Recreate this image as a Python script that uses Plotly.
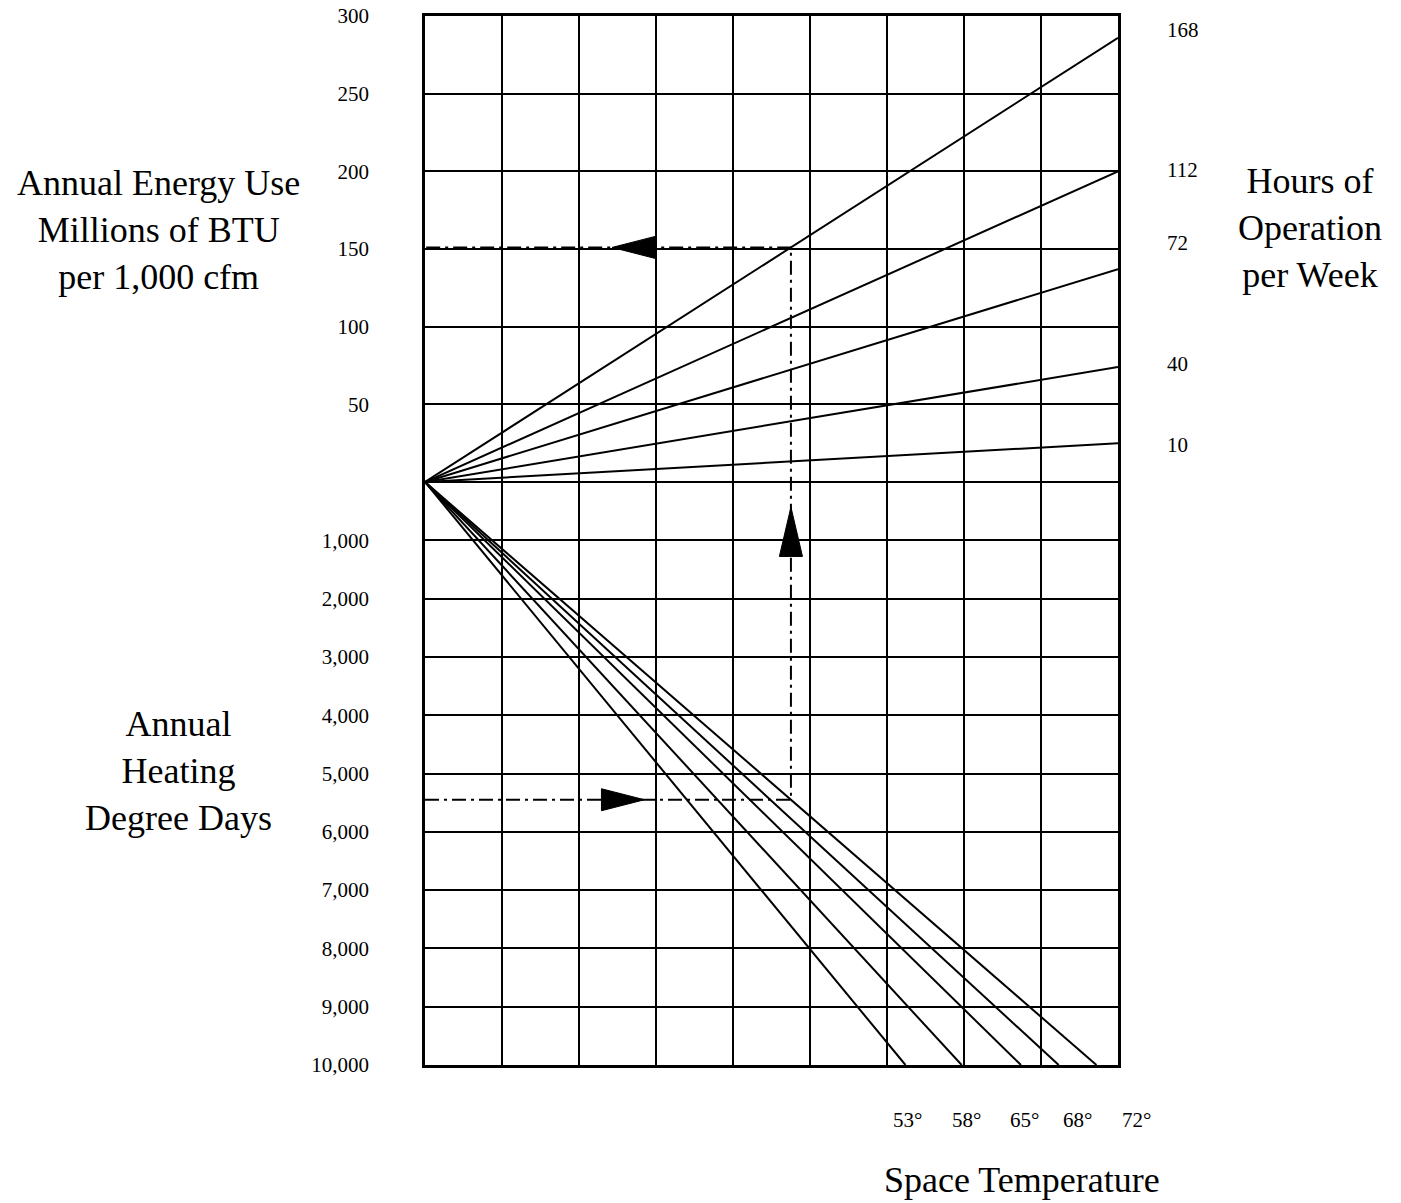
import plotly.graph_objects as go

# ---------------- data ----------------
energy_ticks = [50, 100, 150, 200, 250, 300]          # MBtu per 1,000 cfm
energy_labels = ["50", "100", "150", "200", "250", "300"]
hdd_ticks = [1000, 2000, 3000, 4000, 5000, 6000, 7000, 8000, 9000, 10000]
hdd_labels = ["1,000", "2,000", "3,000", "4,000", "5,000", "6,000", "7,000", "8,000", "9,000", "10,000"]

hours = ["168", "112", "72", "40", "10"]               # hours of operation per week
energy_at_right_edge = [286, 200, 137, 74, 25]         # energy where each hours line meets right edge
hours_label_energy = [291, 201, 154, 76, 24]           # where each hours label sits

temps = ["53°", "58°", "65°", "68°", "72°"]           # space temperature
temp_col_at_max_hdd = [6.24, 6.97, 7.74, 8.23, 8.72]   # column where each temp line meets 10,000 HDD
temp_label_col = [6.27, 7.03, 7.78, 8.48, 9.24]

example_hdd = 5450
example_temp = 4      # 72°
example_hours = 0     # 168 h/week

# ---------------- scales / layout ----------------
N_COLS = 9
E_MAX = 300
HDD_MAX = 10000
UP_PX = 466
DOWN_PX = 583
FIG_W, FIG_H = 1401, 1203
L, T = 425, 16
PLOT_W = 693
PLOT_H = UP_PX + DOWN_PX
R = FIG_W - L - PLOT_W
B = FIG_H - T - PLOT_H
COL_PX = PLOT_W / N_COLS


def ey(e):
    return e / E_MAX * UP_PX


def hy(h):
    return -h / HDD_MAX * DOWN_PX


def px_x(px):
    return (px - L) / PLOT_W


def col_x(c):
    return c / N_COLS


def px_y(py):
    return (T + PLOT_H - py) / PLOT_H


SERIF = "Liberation Serif, Times New Roman, serif"
fig = go.Figure()

# hours lines (upper half)
for h, e in zip(hours, energy_at_right_edge):
    fig.add_trace(go.Scatter(x=[0, N_COLS], y=[0, ey(e)], mode="lines",
                             line=dict(color="black", width=2), hoverinfo="skip", name=h))

# temperature lines (lower half)
for t, c in zip(temps, temp_col_at_max_hdd):
    fig.add_trace(go.Scatter(x=[0, c], y=[0, hy(HDD_MAX)], mode="lines",
                             line=dict(color="black", width=2), hoverinfo="skip", name=t))

# example path
x_v = example_hdd / HDD_MAX * temp_col_at_max_hdd[example_temp]
e_v = x_v / N_COLS * energy_at_right_edge[example_hours]
fig.add_trace(go.Scatter(x=[0, x_v, x_v, 0], y=[hy(example_hdd), hy(example_hdd), ey(e_v), ey(e_v)],
                         mode="lines", line=dict(color="black", width=2, dash="14px,5px,3px,5px"),
                         hoverinfo="skip"))

# arrow heads
A_LEN = 43
A_HALF = 11
# right-pointing on the lower horizontal
tip = 2.85
yy = hy(example_hdd)
fig.add_trace(go.Scatter(x=[tip, tip - A_LEN / COL_PX, tip - A_LEN / COL_PX, tip],
                         y=[yy, yy + A_HALF, yy - A_HALF, yy], fill="toself", fillcolor="black",
                         mode="lines", line=dict(color="black", width=1), hoverinfo="skip"))
# up-pointing on the vertical
tipy = -25
fig.add_trace(go.Scatter(x=[x_v, x_v - A_HALF / COL_PX * 1.05, x_v + A_HALF / COL_PX * 1.05, x_v],
                         y=[tipy, tipy - A_LEN * 1.15, tipy - A_LEN * 1.15, tipy], fill="toself",
                         fillcolor="black", mode="lines", line=dict(color="black", width=1),
                         hoverinfo="skip"))
# left-pointing on the upper horizontal
tip = 2.43
yy = ey(e_v)
fig.add_trace(go.Scatter(x=[tip, tip + A_LEN / COL_PX, tip + A_LEN / COL_PX, tip],
                         y=[yy, yy + A_HALF, yy - A_HALF, yy], fill="toself", fillcolor="black",
                         mode="lines", line=dict(color="black", width=1), hoverinfo="skip"))

tickvals = [ey(e) for e in energy_ticks] + [0] + [hy(h) for h in hdd_ticks]
ticktext = energy_labels + [""] + hdd_labels

fig.update_layout(
    width=FIG_W, height=FIG_H, autosize=False,
    margin=dict(l=L, r=R, t=T, b=B, pad=0),
    paper_bgcolor="white", plot_bgcolor="white",
    showlegend=False,
    font=dict(family=SERIF, color="black"),
    xaxis=dict(range=[0, N_COLS], dtick=1, tick0=0, showgrid=True, gridcolor="black", gridwidth=2,
               showticklabels=False, ticks="", zeroline=False, showline=True, linecolor="black",
               linewidth=2.5, mirror=True, fixedrange=True, automargin=False),
    yaxis=dict(range=[hy(HDD_MAX), ey(E_MAX)], tickmode="array", tickvals=tickvals, ticktext=ticktext,
               showgrid=True, gridcolor="black", gridwidth=2, zeroline=False, ticks="",
               tickfont=dict(family=SERIF, size=21, color="black"), ticklabelstandoff=49,
               showline=True, linecolor="black", linewidth=2.5, mirror=True, fixedrange=True,
               automargin=False),
)

# hours labels at right
for h, e in zip(hours, hours_label_energy):
    fig.add_annotation(x=1.0, y=ey(e), xref="paper", yref="y", text=h, showarrow=False,
                       xanchor="left", yanchor="middle", xshift=47,
                       font=dict(family=SERIF, size=21, color="black"))

# temperature labels at bottom
for t, c in zip(temps, temp_label_col):
    fig.add_annotation(x=col_x(c), y=px_y(1120), xref="paper", yref="paper", text=t, showarrow=False,
                       xanchor="center", yanchor="middle",
                       font=dict(family=SERIF, size=21, color="black"))

BIG = dict(family=SERIF, size=36, color="black")
titles = [
    ("Annual Energy Use<br>Millions of BTU<br>per 1,000 cfm", 158, 230),
    ("Hours of<br>Operation<br>per Week", 1310, 228),
    ("Annual<br>Heating<br>Degree Days", 178, 771),
    ("Space Temperature", 1022, 1180),
]
for txt, cx, cy in titles:
    fig.add_annotation(x=px_x(cx), y=px_y(cy), xref="paper", yref="paper", text=txt, showarrow=False,
                       xanchor="center", yanchor="middle", align="center", font=BIG)

fig.write_html("out.html", config={"displayModeBar": False},
               post_script="document.body.style.margin='0';document.body.style.overflow='hidden';")
